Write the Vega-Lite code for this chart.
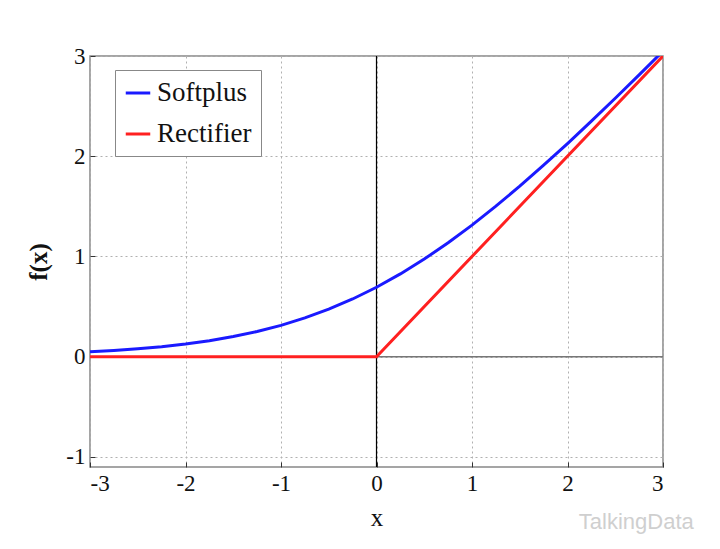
{
  "$schema": "https://vega.github.io/schema/vega-lite/v6.json",
  "width": 573,
  "height": 411,
  "autosize": {"type": "none"},
  "padding": {"left": 90, "top": 56, "right": 57, "bottom": 82},
  "background": "white",
  "title": {"text": "TalkingData", "orient": "bottom", "anchor": "end", "color": "#cfcfcf", "fontSize": 22, "font": "Liberation Sans", "fontWeight": "normal", "offset": -18, "dx": 30},
  "config": {
    "view": {"stroke": "#888888", "strokeWidth": 1.5},
    "font": "Liberation Serif",
    "axis": {
      "labelFont": "Liberation Serif",
      "labelFontSize": 23,
      "labelColor": "#111111",
      "titleFont": "Liberation Serif",
      "titleFontSize": 25,
      "titleColor": "#111111",
      "grid": true,
      "gridDash": [2, 3],
      "gridColor": "#b0b0b0",
      "gridWidth": 1,
      "domain": false,
      "ticks": true,
      "tickSize": -5,
      "tickColor": "#333333",
      "labelExpr": "'' + datum.value"
    }
  },
  "datasets": {
    "curves": [
      {"x": -3, "y": 0.04859, "s": "Softplus"},
      {"x": -2.75, "y": 0.06197, "s": "Softplus"},
      {"x": -2.5, "y": 0.07889, "s": "Softplus"},
      {"x": -2.25, "y": 0.10022, "s": "Softplus"},
      {"x": -2, "y": 0.12693, "s": "Softplus"},
      {"x": -1.75, "y": 0.16022, "s": "Softplus"},
      {"x": -1.5, "y": 0.20141, "s": "Softplus"},
      {"x": -1.25, "y": 0.25192, "s": "Softplus"},
      {"x": -1, "y": 0.31326, "s": "Softplus"},
      {"x": -0.75, "y": 0.38687, "s": "Softplus"},
      {"x": -0.5, "y": 0.47408, "s": "Softplus"},
      {"x": -0.25, "y": 0.57596, "s": "Softplus"},
      {"x": 0, "y": 0.69315, "s": "Softplus"},
      {"x": 0.25, "y": 0.82596, "s": "Softplus"},
      {"x": 0.5, "y": 0.97408, "s": "Softplus"},
      {"x": 0.75, "y": 1.13687, "s": "Softplus"},
      {"x": 1, "y": 1.31326, "s": "Softplus"},
      {"x": 1.25, "y": 1.50192, "s": "Softplus"},
      {"x": 1.5, "y": 1.70141, "s": "Softplus"},
      {"x": 1.75, "y": 1.91022, "s": "Softplus"},
      {"x": 2, "y": 2.12693, "s": "Softplus"},
      {"x": 2.25, "y": 2.35022, "s": "Softplus"},
      {"x": 2.5, "y": 2.57889, "s": "Softplus"},
      {"x": 2.75, "y": 2.81197, "s": "Softplus"},
      {"x": 3, "y": 3.04859, "s": "Softplus"},
      {"x": -3, "y": 0, "s": "Rectifier"},
      {"x": 0, "y": 0, "s": "Rectifier"},
      {"x": 3, "y": 3, "s": "Rectifier"}
    ],
    "zx": [{"v": 0}]
  },
  "layer": [
    {
      "data": {"name": "zx"},
      "mark": {"type": "rule", "color": "#777777", "strokeWidth": 1.5},
      "encoding": {"y": {"field": "v", "type": "quantitative", "scale": {"domain": [-1.1, 3]}}}
    },
    {
      "data": {"name": "zx"},
      "mark": {"type": "rule", "color": "#000000", "strokeWidth": 1.2},
      "encoding": {"x": {"field": "v", "type": "quantitative", "scale": {"domain": [-3, 3]}}}
    },
    {
      "data": {"name": "curves"},
      "mark": {"type": "line", "strokeWidth": 3, "clip": true},
      "encoding": {
        "x": {"field": "x", "type": "quantitative", "scale": {"domain": [-3, 3], "nice": false}, "axis": {"values": [-3, -2, -1, 0, 1, 2, 3], "title": "x", "titleFontWeight": "normal", "titlePadding": 10, "labelPadding": 10}},
        "y": {"field": "y", "type": "quantitative", "scale": {"domain": [-1.1, 3], "nice": false, "zero": false}, "axis": {"values": [-1, 0, 1, 2, 3], "title": "f(x)", "titleFontWeight": "bold", "titlePadding": 14, "labelPadding": 10}},
        "color": {
          "field": "s", "type": "nominal",
          "scale": {"domain": ["Softplus", "Rectifier"], "range": ["#1a1aff", "#ff2020"]},
          "legend": {
            "title": null, "orient": "none", "legendX": 25, "legendY": 14,
            "symbolType": "stroke", "symbolStrokeWidth": 3, "symbolSize": 600,
            "labelFont": "Liberation Serif", "labelFontSize": 27, "labelColor": "#111111",
            "fillColor": "white", "strokeColor": "#888888", "padding": 9, "rowPadding": 14,
            "labelOffset": 5
          }
        }
      }
    }
  ]
}
